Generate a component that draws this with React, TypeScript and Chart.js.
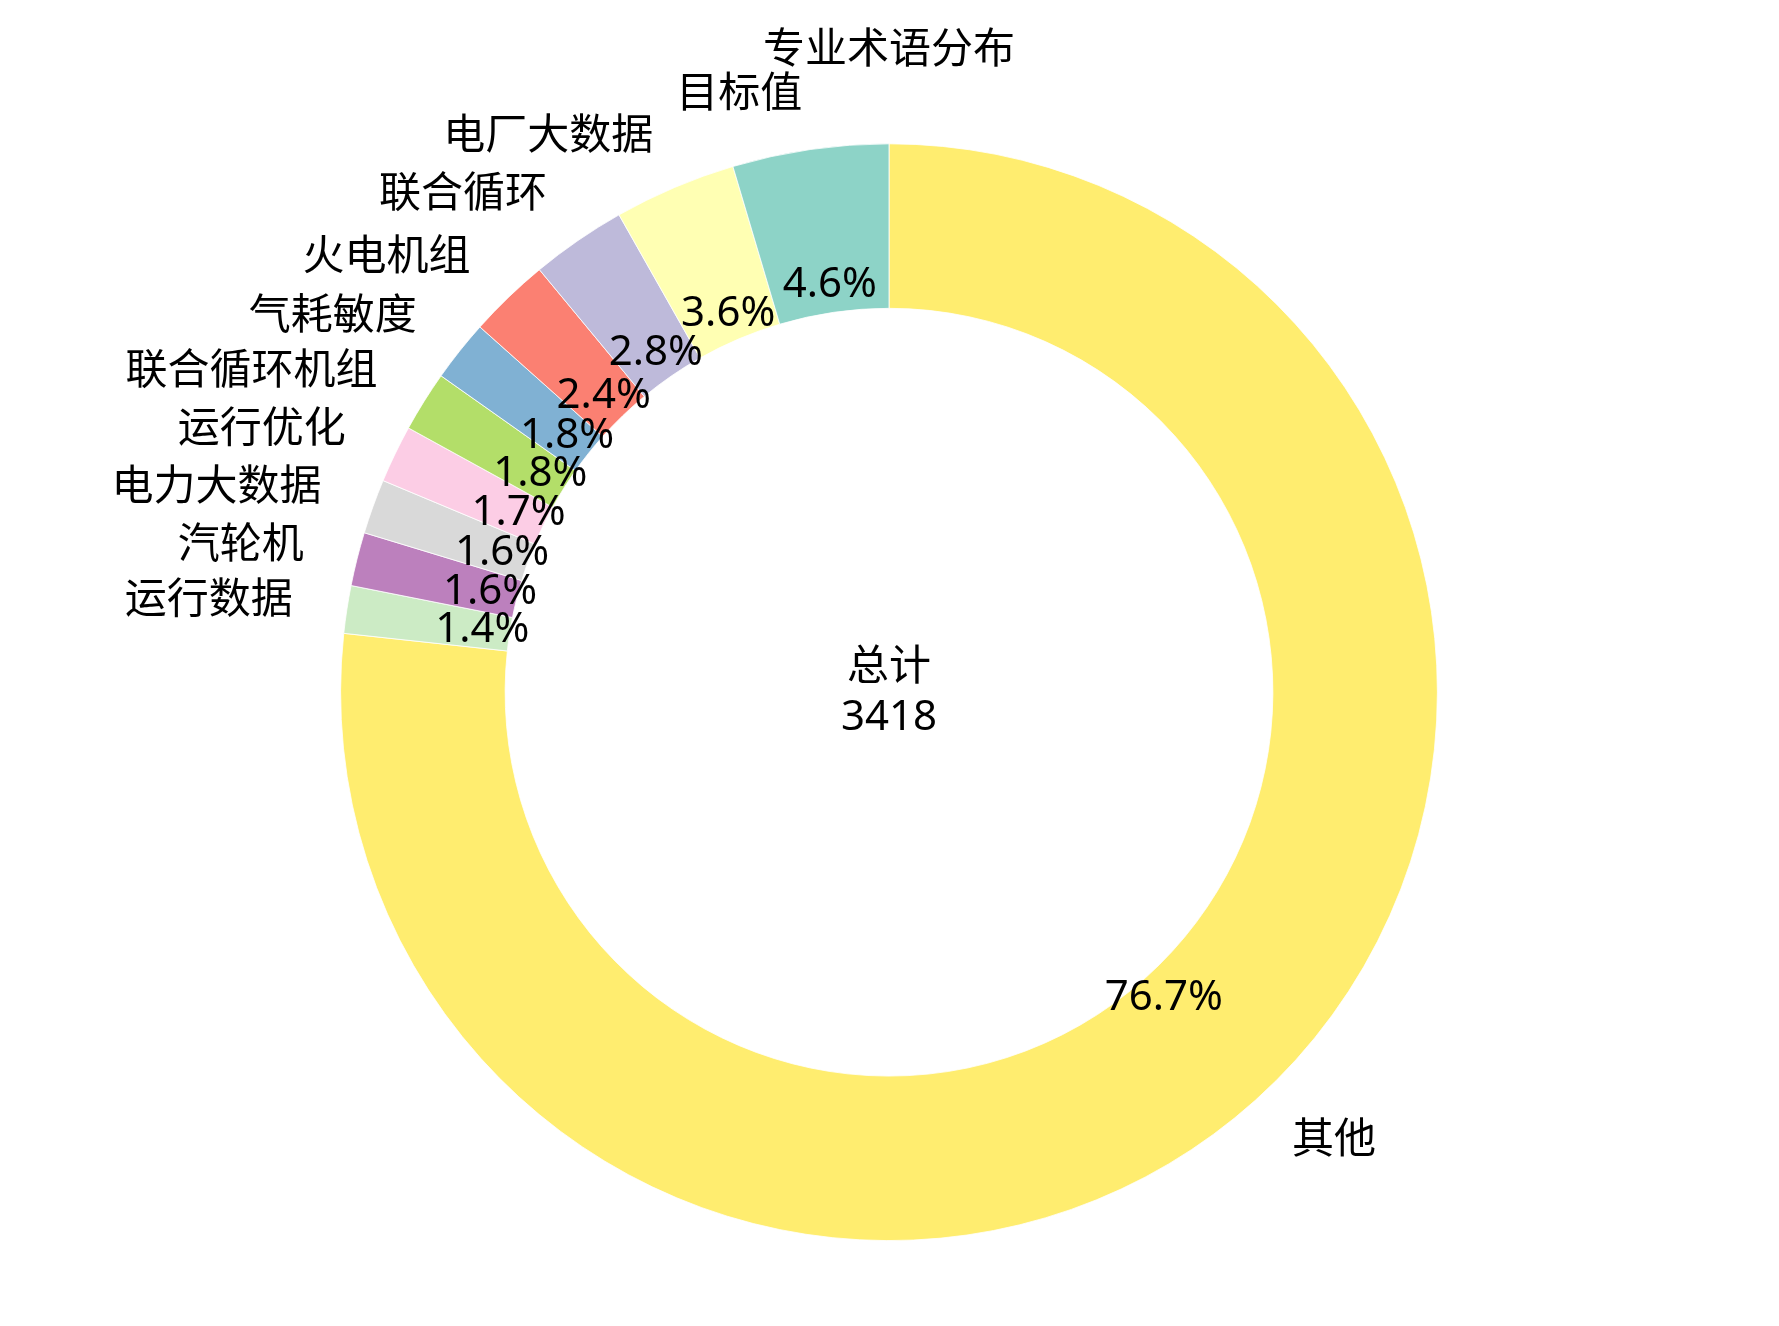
import React, { useEffect, useRef } from 'react';
import { Chart, registerables, Plugin } from 'chart.js';

Chart.register(...registerables);

// term categories, counter-clockwise from 12 o'clock as in the source
const terms = [
    '目标值',
    '电厂大数据',
    '联合循环',
    '火电机组',
    '气耗敏度',
    '联合循环机组',
    '运行优化',
    '电力大数据',
    '汽轮机',
    '运行数据',
    '其他',
];
const counts = [157, 123, 96, 82, 62, 61, 58, 55, 54, 48, 2622];
const sliceColors = [
    '#8dd3c7',
    '#ffffb3',
    '#bebada',
    '#fb8072',
    '#80b1d3',
    '#b3de69',
    '#fccde5',
    '#d9d9d9',
    '#bc80bd',
    '#ccebc5',
    '#ffed6f',
];
const chartTitle = '专业术语分布';
const centerCaption = '总计';

const total = counts.reduce((a, b) => a + b, 0);
const FONT = '"Noto Sans", "Noto Sans CJK SC", sans-serif';

// chart.js goes clockwise, so reverse to get the counter-clockwise layout
const drawLabels = [...terms].reverse();
const drawCounts = [...counts].reverse();
const drawColors = [...sliceColors].reverse();

const sliceText: Plugin<'doughnut'> = {
    id: 'sliceText',
    afterDatasetsDraw(chart) {
        const ctx = chart.ctx;
        const meta = chart.getDatasetMeta(0);
        ctx.save();
        ctx.fillStyle = '#000';
        ctx.font = `42px ${FONT}`;
        meta.data.forEach((el, i) => {
            const { x, y, startAngle, endAngle, outerRadius } = (el as any).getProps(
                ['x', 'y', 'startAngle', 'endAngle', 'outerRadius'],
                true
            );
            const mid = (startAngle + endAngle) / 2;
            const cos = Math.cos(mid);
            const sin = Math.sin(mid);

            // percentage inside the ring
            const pct = ((drawCounts[i] / total) * 100).toFixed(1) + '%';
            ctx.textAlign = 'center';
            ctx.textBaseline = 'middle';
            ctx.fillText(pct, x + cos * outerRadius * 0.75, y + sin * outerRadius * 0.75);

            // category name outside
            ctx.textAlign = cos < 0 ? 'right' : 'left';
            ctx.fillText(drawLabels[i], x + cos * outerRadius * 1.1, y + sin * outerRadius * 1.1);
        });

        // total in the hole
        const first = meta.data[0] as any;
        if (first) {
            ctx.textAlign = 'center';
            ctx.textBaseline = 'alphabetic';
            ctx.fillText(centerCaption, first.x, first.y - 12);
            ctx.fillText(String(total), first.x, first.y + 38);
        }
        ctx.restore();
    },
};

const App: React.FC = () => {
    const canvasRef = useRef<HTMLCanvasElement | null>(null);
    const chartRef = useRef<Chart<'doughnut'> | null>(null);

    useEffect(() => {
        if (!canvasRef.current) return;
        const ctx = canvasRef.current.getContext('2d');
        if (!ctx) return;

        chartRef.current = new Chart(ctx, {
            type: 'doughnut',
            data: {
                labels: drawLabels,
                datasets: [
                    {
                        data: drawCounts,
                        backgroundColor: drawColors,
                        borderColor: '#ffffff',
                        borderWidth: 0.8,
                    },
                ],
            },
            options: {
                animation: false,
                responsive: true,
                maintainAspectRatio: false,
                cutout: '70%',
                rotation: 0,
                layout: {
                    padding: { top: 0, bottom: 85, left: 340, right: 341 },
                },
                plugins: {
                    legend: { display: false },
                    tooltip: { enabled: false },
                    title: {
                        display: true,
                        text: chartTitle,
                        color: '#000',
                        font: { family: FONT, size: 42, weight: 'normal' },
                        padding: { top: 26, bottom: 67 },
                    },
                },
            },
            plugins: [sliceText],
        });

        return () => {
            chartRef.current?.destroy();
            chartRef.current = null;
        };
    }, []);

    return (
        <div style={{ position: 'absolute', left: 0, top: 0, width: 1779, height: 1326, background: '#fff' }}>
            <canvas ref={canvasRef}></canvas>
        </div>
    );
};

export default App;
